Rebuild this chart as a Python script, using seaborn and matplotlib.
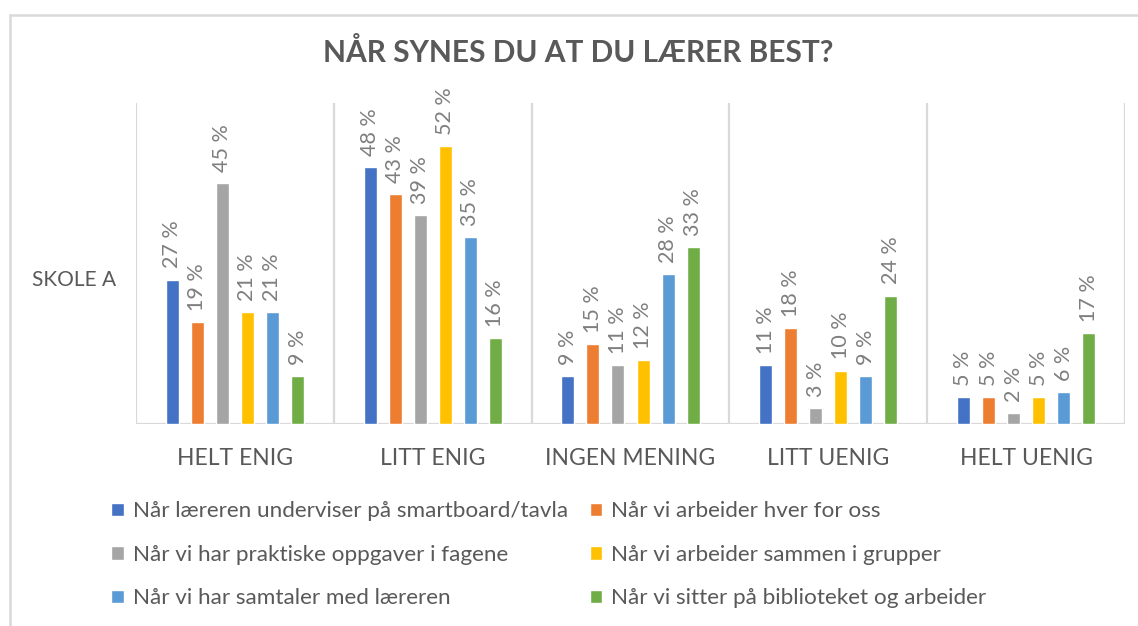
import matplotlib
matplotlib.use("Agg")
import matplotlib.pyplot as plt
from matplotlib.lines import Line2D
import seaborn as sns
import pandas as pd

categories = ["HELT ENIG", "LITT ENIG", "INGEN MENING", "LITT UENIG", "HELT UENIG"]
series = [
    "Når læreren underviser på smartboard/tavla",
    "Når vi arbeider hver for oss",
    "Når vi har praktiske oppgaver i fagene",
    "Når vi arbeider sammen i grupper",
    "Når vi har samtaler med læreren",
    "Når vi sitter på biblioteket og arbeider",
]
s1 = [27, 48, 9, 11, 5]
s2 = [19, 43, 15, 18, 5]
s3 = [45, 39, 11, 3, 2]
s4 = [21, 52, 12, 10, 5]
s5 = [21, 35, 28, 9, 6]
s6 = [9, 16, 33, 24, 17]
values = [s1, s2, s3, s4, s5, s6]
colors = ["#4472C4", "#ED7D31", "#A5A5A5", "#FFC000", "#5B9BD5", "#70AD47"]
title = "NÅR SYNES DU AT DU LÆRER BEST?"
row_label = "SKOLE A"

rows = []
for sname, vals in zip(series, values):
    for cat, v in zip(categories, vals):
        rows.append({"Kategori": cat, "Serie": sname, "Verdi": v})
df = pd.DataFrame(rows)

sns.set_theme(style="white")
plt.rcParams["font.family"] = ["Lato", "DejaVu Sans"]

text_c = "#595959"
label_c = "#7F7F7F"
grid_c = "#D9D9D9"

fig = plt.figure(figsize=(11.38, 6.26), dpi=100)
W, H = 1138, 626
ax = fig.add_axes([136 / W, 1 - 424 / H, (1125 - 136) / W, (424 - 103) / H])

sns.barplot(data=df, x="Kategori", y="Verdi", hue="Serie", order=categories,
            hue_order=series, palette=colors, width=0.76, gap=0.48,
            saturation=1, ax=ax, legend=True)

for cont in ax.containers:
    labs = [f"{int(round(b.get_height()))} %" for b in cont]
    ax.bar_label(cont, labels=labs, rotation=90, padding=8, fontsize=15.5,
                 color=label_c)

ax.set_xlim(-0.5, 4.5)
ax.set_ylim(0, 60)
ax.set_yticks([])
ax.set_xlabel("")
ax.set_ylabel("")
for sp in ax.spines.values():
    sp.set_visible(False)
for xv in [-0.5, 0.5, 1.5, 2.5, 3.5, 4.5]:
    ax.axvline(xv, color=grid_c, lw=1.6, zorder=0)
ax.axhline(0, color=grid_c, lw=1.6, zorder=0)
ax.tick_params(axis="x", length=0, pad=17, labelsize=16.5, labelcolor=text_c)
ax.grid(False)

handles, labels = ax.get_legend_handles_labels()
ax.get_legend().remove()
order = [0, 2, 4, 1, 3, 5]
leg = fig.legend([handles[i] for i in order], [labels[i] for i in order],
                 ncol=2, loc="upper left",
                 bbox_to_anchor=(91 / W, 1 - 481 / H), frameon=False,
                 fontsize=16.2, labelcolor=text_c, handlelength=0.55,
                 handleheight=0.55, handletextpad=0.4, columnspacing=0.98,
                 labelspacing=1.05)

fig.text(578 / W, 1 - 52 / H, title, ha="center", va="center",
         fontsize=21.5, fontweight="bold", color=text_c)
fig.text(32 / W, 1 - 280 / H, row_label, ha="left", va="center",
         fontsize=15, color=text_c)

fig.add_artist(Line2D([10 / W, 10 / W], [0, 1 - 15 / H], transform=fig.transFigure,
                      color=grid_c, lw=1.8))
fig.add_artist(Line2D([10 / W, 1], [1 - 15 / H, 1 - 15 / H], transform=fig.transFigure,
                      color=grid_c, lw=1.8))

fig.savefig("out.png", dpi=100)
